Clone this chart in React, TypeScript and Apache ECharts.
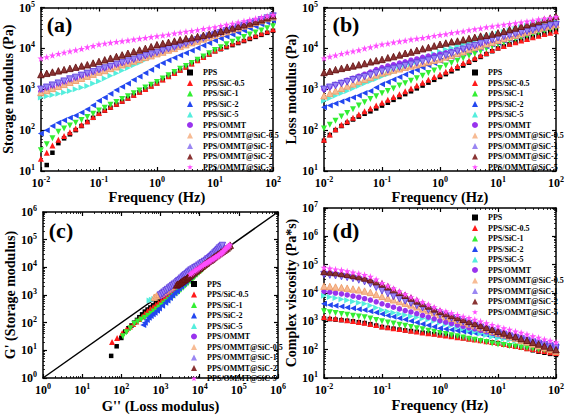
import React, { useEffect, useRef } from 'react';
import * as echarts from 'echarts';

const seriesNames = ['PPS', 'PPS/SiC-0.5', 'PPS/SiC-1', 'PPS/SiC-2', 'PPS/SiC-5', 'PPS/OMMT', 'PPS/OMMT@SiC-0.5', 'PPS/OMMT@SiC-1', 'PPS/OMMT@SiC-2', 'PPS/OMMT@SiC-5'];

const frequency = [0.01, 0.0126, 0.0158, 0.02, 0.0251, 0.0316, 0.0398, 0.0501, 0.0631, 0.0794, 0.1, 0.126, 0.158, 0.2, 0.251, 0.316, 0.398, 0.501, 0.631, 0.794, 1, 1.26, 1.58, 2, 2.51, 3.16, 3.98, 5.01, 6.31, 7.94, 10, 12.6, 15.8, 20, 25.1, 31.6, 39.8, 50.1, 63.1, 79.4, 100];

// (a) storage modulus G' (Pa)
const storagePPS = [6.3, 14, 28, 48, 63, 79, 100, 126, 158, 200, 251, 299, 355, 422, 501, 596, 708, 841, 1000, 1190, 1410, 1690, 2020, 2420, 2900, 3470, 4150, 4970, 5940, 7110, 8510, 9550, 10700, 12000, 13500, 15100, 17000, 19100, 21400, 24000, 26900];
const storageSiC05 = [20, 28, 42, 58, 72, 89, 110, 135, 166, 209, 263, 316, 372, 442, 525, 617, 733, 871, 1020, 1220, 1450, 1740, 2090, 2510, 2990, 3550, 4270, 5130, 6170, 7410, 8910, 10200, 11700, 13200, 14800, 16600, 18600, 20900, 23400, 26300, 29500];
const storageSiC1 = [32, 45, 63, 91, 110, 129, 151, 178, 209, 251, 302, 355, 417, 490, 575, 676, 794, 933, 1100, 1290, 1510, 1820, 2190, 2630, 3160, 3720, 4370, 5250, 6310, 7590, 9120, 10700, 12600, 14500, 16600, 19100, 21900, 24500, 27500, 30900, 34700];
const storageSiC2 = [83, 100, 126, 151, 174, 200, 229, 269, 324, 407, 525, 631, 776, 955, 1150, 1380, 1700, 2040, 2510, 3020, 3720, 4370, 5130, 5890, 6760, 7760, 8910, 10200, 11700, 13500, 15500, 17400, 19500, 21900, 24500, 27500, 30900, 34700, 38900, 43700, 47900];
const storageSiC5 = [631, 676, 724, 776, 832, 912, 1000, 1100, 1200, 1380, 1580, 1820, 2140, 2460, 2880, 3310, 3890, 4470, 5250, 6030, 7080, 7940, 8910, 10000, 11200, 12600, 14100, 15800, 17800, 20000, 22400, 24500, 26900, 29500, 31600, 34700, 37200, 40700, 44700, 47900, 52500];
const storageOMMT = [891, 1000, 1120, 1260, 1410, 1580, 1780, 2000, 2240, 2510, 2820, 3090, 3390, 3720, 4070, 4470, 5010, 5500, 6030, 6760, 7410, 8320, 9120, 10200, 11200, 12600, 13800, 15500, 17400, 19100, 21400, 23400, 26300, 28800, 32400, 35500, 39800, 43700, 49000, 53700, 60300];
const storageOMMT05 = [832, 933, 1050, 1180, 1320, 1480, 1660, 1860, 2090, 2340, 2630, 2880, 3240, 3550, 3980, 4370, 4900, 5370, 6030, 6610, 7410, 8130, 9120, 10000, 11200, 12300, 13800, 15100, 17000, 18600, 20900, 23400, 25700, 28800, 31600, 35500, 38900, 43700, 47900, 53700, 58900];
const storageOMMT1 = [1000, 1120, 1260, 1410, 1580, 1780, 1950, 2190, 2450, 2690, 3020, 3310, 3630, 4070, 4470, 4900, 5370, 5890, 6610, 7240, 7940, 8710, 9770, 10700, 12000, 13200, 14500, 16200, 17800, 20000, 21900, 24000, 26900, 29500, 33100, 36300, 40700, 44700, 50100, 55000, 61700];
const storageOMMT2 = [2290, 2450, 2630, 2820, 3020, 3240, 3470, 3720, 3980, 4370, 4790, 5250, 5750, 6310, 6920, 7590, 8320, 9120, 10000, 11000, 12300, 13200, 14100, 15100, 16200, 17400, 18200, 19500, 20900, 22400, 24000, 26300, 28800, 31600, 34700, 38000, 41700, 45700, 50100, 56200, 63100];
const storageOMMT5 = [5690, 6170, 6760, 7410, 7940, 8510, 9120, 9770, 10700, 11500, 12600, 13200, 13800, 14500, 15100, 15800, 16600, 17400, 18200, 19100, 20000, 20900, 21900, 23400, 24500, 25700, 26900, 28200, 30200, 31600, 33100, 35500, 38000, 40700, 43700, 46800, 50100, 53700, 57500, 61700, 66100];

// (b) loss modulus G'' (Pa)
const lossPPS = [55, 76, 100, 126, 151, 182, 214, 251, 288, 339, 398, 468, 550, 646, 759, 891, 1050, 1230, 1450, 1700, 2000, 2340, 2750, 3240, 3800, 4470, 5250, 6170, 7240, 8510, 10000, 11200, 12600, 14100, 15500, 17400, 19100, 20900, 22900, 25700, 28200];
const lossSiC05 = [58, 78, 105, 135, 166, 200, 240, 288, 339, 398, 468, 550, 646, 759, 891, 1050, 1230, 1450, 1700, 2000, 2290, 2690, 3160, 3720, 4370, 5010, 5890, 6760, 7760, 9120, 10500, 11500, 12900, 14100, 15500, 17000, 18600, 20400, 22400, 24000, 26300];
const lossSiC1 = [110, 135, 170, 214, 263, 324, 398, 479, 575, 676, 794, 912, 1050, 1230, 1410, 1620, 1860, 2140, 2510, 2880, 3310, 3800, 4370, 5010, 5750, 6610, 7410, 8510, 9770, 11200, 12600, 13800, 15500, 17000, 18600, 20400, 22400, 24500, 26900, 29500, 32400];
const lossSiC2 = [363, 398, 447, 501, 562, 631, 708, 813, 912, 1100, 1320, 1510, 1740, 2000, 2290, 2630, 2950, 3390, 3890, 4370, 5010, 5620, 6170, 6920, 7590, 8320, 9330, 10200, 11200, 12600, 13800, 15500, 17000, 19100, 20900, 23400, 25700, 28800, 31600, 35500, 38900];
const lossSiC5 = [525, 603, 692, 794, 912, 1050, 1200, 1380, 1580, 1780, 2040, 2340, 2690, 3090, 3550, 4070, 4680, 5370, 6170, 7240, 8320, 9330, 10200, 11500, 12600, 14100, 15500, 17400, 19100, 20900, 22900, 25100, 27500, 30200, 33100, 35500, 38900, 41700, 44700, 47900, 51300];
const lossOMMT = [1000, 1150, 1320, 1480, 1660, 1860, 2090, 2340, 2630, 3020, 3390, 3720, 3980, 4370, 4680, 5130, 5500, 6030, 6460, 6760, 7240, 7760, 8320, 9120, 9770, 10500, 11200, 12000, 13200, 14100, 15100, 16600, 18200, 20000, 21900, 24000, 26300, 28800, 31600, 34700, 38000];
const lossOMMT05 = [692, 794, 912, 1050, 1200, 1350, 1550, 1740, 1950, 2240, 2510, 2690, 2950, 3160, 3470, 3720, 3980, 4370, 4680, 5130, 5500, 6170, 6760, 7590, 8320, 9330, 10500, 11500, 12900, 14100, 15800, 17400, 19100, 20900, 22900, 25100, 27500, 30200, 33100, 35500, 38000];
const lossOMMT1 = [1000, 1120, 1230, 1380, 1510, 1700, 1860, 2040, 2240, 2510, 2750, 2950, 3240, 3470, 3800, 4070, 4370, 4790, 5130, 5620, 6030, 6760, 7590, 8510, 9550, 10700, 11700, 13200, 14800, 16200, 18200, 19500, 20900, 22400, 24500, 26300, 28200, 30200, 32400, 35500, 38000];
const lossOMMT2 = [2570, 2750, 3020, 3240, 3470, 3720, 3980, 4270, 4680, 5010, 5370, 5890, 6310, 6920, 7590, 8130, 8910, 9770, 10500, 11500, 12600, 13500, 14500, 15100, 16200, 17400, 18600, 20000, 20900, 22400, 24000, 26300, 28800, 31600, 34700, 38000, 41700, 45700, 50100, 55000, 60300];
const lossOMMT5 = [5750, 6310, 6760, 7410, 7940, 8510, 9120, 10000, 10700, 11700, 12600, 13200, 14100, 14800, 15500, 16600, 17400, 18200, 19100, 20400, 21400, 22400, 24000, 25100, 26300, 28200, 29500, 30900, 33100, 34700, 36300, 38000, 39800, 41700, 43700, 45700, 47900, 51300, 53700, 56200, 58900];

// (d) complex viscosity (Pa*s)
const viscPPS = [1260, 1200, 1150, 1100, 1050, 1000, 933, 871, 794, 708, 631, 589, 550, 513, 479, 457, 427, 398, 380, 355, 339, 316, 295, 275, 257, 240, 224, 209, 195, 182, 170, 155, 141, 129, 117, 107, 95, 85, 78, 71, 65];
const viscSiC05 = [1410, 1320, 1260, 1180, 1100, 1020, 955, 891, 813, 741, 661, 617, 575, 537, 501, 468, 437, 407, 380, 363, 339, 316, 295, 275, 263, 245, 229, 214, 200, 186, 174, 158, 145, 135, 123, 112, 105, 95, 89, 81, 76];
const viscSiC1 = [2290, 2090, 1950, 1820, 1700, 1580, 1480, 1380, 1260, 1120, 1000, 912, 832, 759, 692, 631, 575, 525, 468, 427, 389, 355, 324, 295, 269, 245, 224, 204, 186, 166, 151, 145, 135, 129, 120, 115, 107, 102, 98, 91, 87];
const viscSiC2 = [4170, 3800, 3550, 3310, 3090, 2880, 2690, 2510, 2290, 2040, 1820, 1620, 1450, 1290, 1150, 1020, 912, 813, 724, 646, 575, 537, 501, 468, 437, 407, 389, 363, 339, 316, 295, 275, 251, 234, 214, 200, 182, 170, 155, 145, 132];
const viscSiC5 = [7940, 7240, 6610, 6030, 5500, 5010, 4570, 4170, 3630, 3020, 2510, 2240, 2000, 1820, 1660, 1510, 1380, 1260, 1150, 1020, 912, 794, 708, 617, 550, 479, 427, 372, 331, 288, 257, 240, 219, 204, 186, 174, 158, 148, 135, 126, 115];
const viscOMMT = [11500, 10700, 10000, 9330, 8510, 7760, 7080, 6310, 5620, 4900, 4170, 3630, 3160, 2750, 2400, 2140, 1860, 1620, 1410, 1230, 1050, 933, 832, 741, 661, 589, 537, 479, 427, 380, 339, 302, 269, 245, 219, 195, 178, 158, 141, 126, 115];
const viscOMMT05 = [17400, 17000, 16200, 15500, 14800, 13800, 12900, 11700, 10500, 8910, 7590, 6610, 5750, 5010, 4370, 3800, 3240, 2750, 2400, 2040, 1740, 1480, 1290, 1100, 955, 813, 708, 603, 525, 447, 389, 339, 288, 251, 214, 186, 158, 138, 117, 102, 87];
const viscOMMT1 = [44700, 42700, 40700, 38000, 35500, 32400, 28800, 25100, 20900, 15800, 12000, 9550, 7590, 6310, 5250, 4370, 3630, 3020, 2510, 2090, 1740, 1510, 1290, 1120, 955, 832, 708, 617, 525, 457, 389, 347, 302, 269, 240, 214, 186, 166, 148, 129, 115];
const viscOMMT2 = [57500, 55000, 52500, 49000, 45700, 41700, 38000, 33900, 29500, 25100, 20900, 16600, 13200, 10500, 8320, 6610, 5250, 4270, 3470, 2750, 2240, 1910, 1620, 1380, 1180, 1000, 851, 724, 617, 525, 447, 389, 331, 288, 245, 214, 182, 158, 135, 117, 100];
const viscOMMT5 = [79400, 74100, 69200, 64600, 58900, 53700, 49000, 43700, 38000, 30200, 22900, 18200, 14500, 11500, 9120, 7240, 5890, 4790, 3890, 3160, 2570, 2240, 1950, 1700, 1480, 1320, 1150, 1000, 871, 759, 661, 575, 513, 447, 398, 347, 302, 269, 234, 209, 182];

// diagonal reference line in (c): G' = G''
const diagonalEnds = [1, 1000000];

const storageSeries = [storagePPS, storageSiC05, storageSiC1, storageSiC2, storageSiC5, storageOMMT, storageOMMT05, storageOMMT1, storageOMMT2, storageOMMT5];
const lossSeries = [lossPPS, lossSiC05, lossSiC1, lossSiC2, lossSiC5, lossOMMT, lossOMMT05, lossOMMT1, lossOMMT2, lossOMMT5];
const viscSeries = [viscPPS, viscSiC05, viscSiC1, viscSiC2, viscSiC5, viscOMMT, viscOMMT05, viscOMMT1, viscOMMT2, viscOMMT5];

const STAR = 'path://M50,0 L61,35 L98,35 L68,57 L79,91 L50,70 L21,91 L32,57 L2,35 L39,35 Z';
const markerStyles = [
  { symbol: 'rect', size: 4.5, rotate: 0, fill: '#000000', stroke: '' },
  { symbol: 'triangle', size: 6, rotate: 0, fill: '#ff1a1a', stroke: '' },
  { symbol: 'triangle', size: 6, rotate: 180, fill: '#33ee33', stroke: '' },
  { symbol: 'triangle', size: 6, rotate: 90, fill: '#2347f0', stroke: '' },
  { symbol: 'triangle', size: 6, rotate: -90, fill: '#55eedd', stroke: '' },
  { symbol: 'circle', size: 5.5, rotate: 0, fill: '#9933ee', stroke: '' },
  { symbol: 'triangle', size: 6.5, rotate: 0, fill: '#f7bb94', stroke: '#ec9660' },
  { symbol: 'triangle', size: 6.5, rotate: 180, fill: '#9a86f2', stroke: '#5535dd' },
  { symbol: 'triangle', size: 6.5, rotate: 0, fill: '#8a3434', stroke: '#5e0a0a' },
  { symbol: STAR, size: 7, rotate: 0, fill: '#ff4dff', stroke: '' },
];

const FONT = "'Liberation Serif', 'Times New Roman', serif";

const labelRich = {
  b: { fontFamily: FONT, fontWeight: 'bold', fontSize: 12, lineHeight: 15, color: '#000' },
  s: { fontFamily: FONT, fontWeight: 'bold', fontSize: 8, lineHeight: 8, verticalAlign: 'top', color: '#000' },
};

function powLabel(v: number) {
  const e = Math.round(Math.log10(v));
  return `{b|10}{s|${e}}`;
}

const grids = [
  { left: 40, top: 5.5, width: 233, height: 165.5 },
  { left: 324, top: 5, width: 234, height: 166 },
  { left: 43, top: 212, width: 235, height: 166 },
  { left: 324, top: 208, width: 234, height: 170 },
];

function makeAxis(dim: 'x' | 'y', gridIndex: number, min: number, max: number, name: string, nameGap: number, mirror: boolean) {
  const position = dim === 'x' ? (mirror ? 'top' : 'bottom') : (mirror ? 'right' : 'left');
  return {
    type: 'log',
    logBase: 10,
    gridIndex,
    min,
    max,
    position,
    name: mirror ? '' : name,
    nameLocation: 'middle',
    nameGap,
    nameTextStyle: { fontFamily: FONT, fontWeight: 'bold', fontSize: dim === 'x' ? 14.5 : 14, color: '#000' },
    axisLine: { show: true, lineStyle: { color: '#000', width: 1.5 } },
    axisTick: { show: true, inside: true, length: 4, lineStyle: { color: '#000', width: 1.2 } },
    minorTick: { show: true, splitNumber: 9, length: 2, lineStyle: { color: '#000', width: 0.8 } },
    splitLine: { show: false },
    minorSplitLine: { show: false },
    axisLabel: {
      show: !mirror,
      formatter: powLabel,
      rich: labelRich,
      margin: dim === 'x' ? 4 : 6,
    },
  };
}

export default function App() {
  const ref = useRef<HTMLDivElement>(null);

  useEffect(() => {
    document.body.style.margin = '0';
    if (!ref.current) return;
    const chart = echarts.init(ref.current, null, { renderer: 'svg' });

    const xAxis = [
      makeAxis('x', 0, 0.01, 100, 'Frequency (Hz)', 15, false),
      makeAxis('x', 1, 0.01, 100, 'Frequency (Hz)', 14.5, false),
      makeAxis('x', 2, 1, 1000000, "G'' (Loss modulus)", 20, false),
      makeAxis('x', 3, 0.01, 100, 'Frequency (Hz)', 19, false),
      makeAxis('x', 0, 0.01, 100, '', 0, true),
      makeAxis('x', 1, 0.01, 100, '', 0, true),
      makeAxis('x', 2, 1, 1000000, '', 0, true),
      makeAxis('x', 3, 0.01, 100, '', 0, true),
    ];
    const yAxis = [
      makeAxis('y', 0, 10, 100000, 'Storage modulus (Pa)', 24.5, false),
      makeAxis('y', 1, 10, 100000, 'Loss modulus (Pa)', 25, false),
      makeAxis('y', 2, 1, 1000000, "G' (Storage modulus)", 23, false),
      makeAxis('y', 3, 10, 10000000, 'Complex viscosity (Pa*s)', 25, false),
      makeAxis('y', 0, 10, 100000, '', 0, true),
      makeAxis('y', 1, 10, 100000, '', 0, true),
      makeAxis('y', 2, 1, 1000000, '', 0, true),
      makeAxis('y', 3, 10, 10000000, '', 0, true),
    ];

    const series: any[] = [
      {
        name: "G'=G''",
        type: 'line',
        xAxisIndex: 2,
        yAxisIndex: 2,
        data: [[diagonalEnds[0], diagonalEnds[0]], [diagonalEnds[1], diagonalEnds[1]]],
        showSymbol: false,
        symbol: 'none',
        lineStyle: { color: '#000', width: 1.5 },
        z: 1,
        silent: true,
      },
    ];

    seriesNames.forEach((name, k) => {
      const st = markerStyles[k];
      const common = {
        name,
        type: 'scatter',
        symbol: st.symbol,
        symbolSize: st.size,
        symbolRotate: st.rotate,
        itemStyle: {
          color: st.fill,
          borderColor: st.stroke || st.fill,
          borderWidth: st.stroke ? 0.8 : 0,
          opacity: 1,
        },
        z: 2,
      };
      series.push({ ...common, xAxisIndex: 0, yAxisIndex: 0, data: frequency.map((f, i) => [f, storageSeries[k][i]]) });
      series.push({ ...common, xAxisIndex: 1, yAxisIndex: 1, data: frequency.map((f, i) => [f, lossSeries[k][i]]) });
      series.push({ ...common, xAxisIndex: 2, yAxisIndex: 2, data: lossSeries[k].map((g2, i) => [g2, storageSeries[k][i]]) });
      series.push({ ...common, xAxisIndex: 3, yAxisIndex: 3, data: frequency.map((f, i) => [f, viscSeries[k][i]]) });
    });

    const legendBase = {
      data: seriesNames,
      orient: 'vertical',
      itemWidth: 6,
      itemHeight: 6,
      itemGap: 2.5,
      selectedMode: false,
      padding: 0,
      itemStyle: { borderWidth: 0 },
      textStyle: { fontFamily: FONT, fontWeight: 'bold', fontSize: 8, color: '#000', padding: [0, 0, 0, 5] },
    };

    const panelLabel = (text: string, x: number, y: number) => ({
      type: 'text',
      x,
      y,
      style: { text, font: `bold 22px ${FONT}`, fill: '#000', align: 'center', verticalAlign: 'middle' },
      z: 10,
    });

    chart.setOption({
      animation: false,
      backgroundColor: '#ffffff',
      grid: grids,
      xAxis,
      yAxis,
      legend: [
        { ...legendBase, left: 187, top: 68.5 },
        { ...legendBase, left: 472, top: 68.5 },
        { ...legendBase, left: 191, top: 280 },
        { ...legendBase, left: 472, top: 213.5 },
      ],
      graphic: [
        panelLabel('(a)', 59.5, 24),
        panelLabel('(b)', 346, 24),
        panelLabel('(c)', 61, 230),
        panelLabel('(d)', 346, 230),
      ],
      series,
    });

    return () => {
      chart.dispose();
    };
  }, []);

  return <div ref={ref} style={{ width: 567, height: 415 }} />;
}
